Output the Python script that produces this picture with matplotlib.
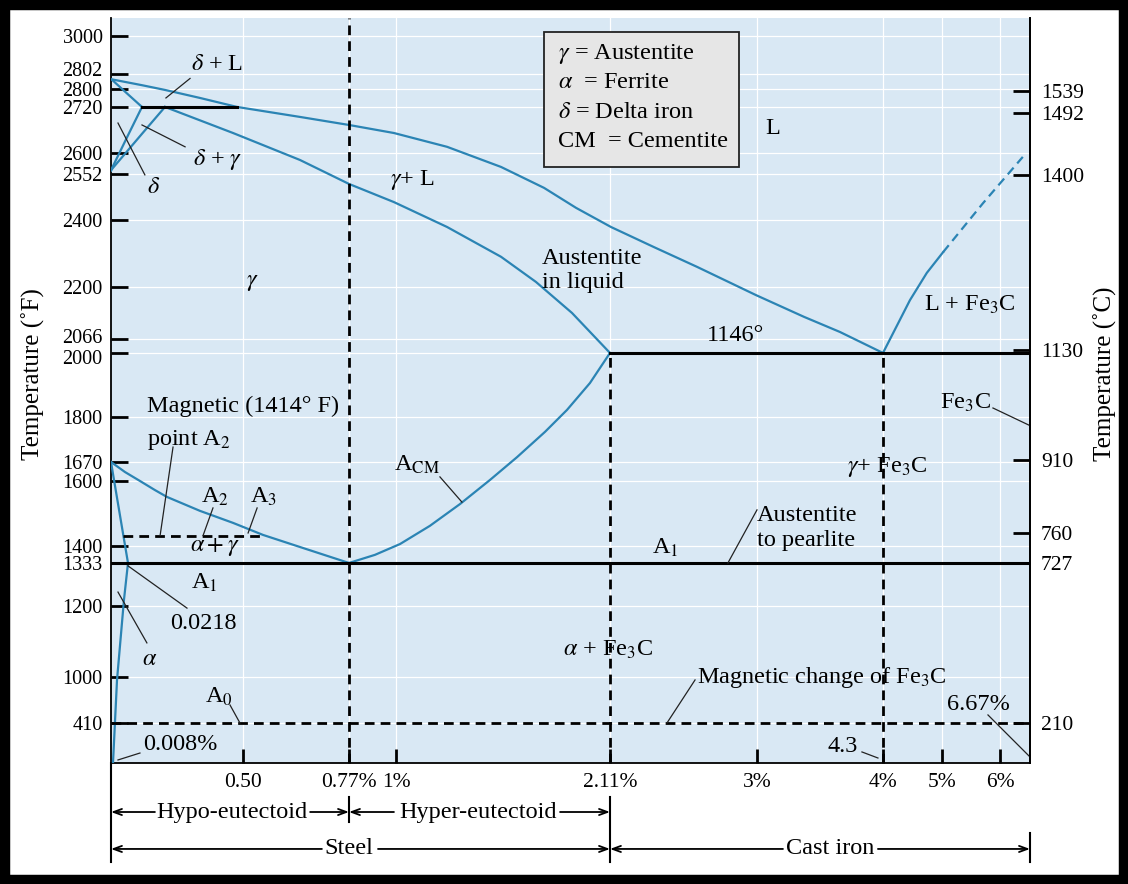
"""
Iron - iron carbide (Fe-Fe3C) phase diagram
"""

import numpy as np
import matplotlib
matplotlib.use("Agg")
import matplotlib.pyplot as plt
import matplotlib.transforms as mtransforms
from matplotlib.patches import Rectangle

plt.rcParams["font.family"] = ["Liberation Serif", "DejaVu Serif"]
plt.rcParams["mathtext.fontset"] = "stix"

# -----------------------------------------------------------------------------
# Data (composition in wt% C, temperature in deg F, as drawn)
# -----------------------------------------------------------------------------
liquidus_c = [0.0, 0.09, 0.17, 0.318, 0.475, 0.645, 0.77, 0.99, 1.265, 1.545,
              1.768, 1.934, 2.116, 2.376, 2.637, 2.994, 3.485, 3.856, 4.3]
liquidus_t = [2801.3, 2800.5, 2795.6, 2760, 2720, 2694, 2673, 2652, 2616, 2568,
              2506, 2440, 2379, 2319, 2260, 2179, 2123, 2084, 2000]

delta_solidus_c = [0.0, 0.008, 0.0218, 0.09]
delta_solidus_t = [2801.3, 2801.1, 2776, 2720]

delta_solvus_c = [0.09, 0.0218, 0.008, 0.0]
delta_solvus_t = [2720, 2646, 2570, 2560]

gamma_delta_c = [0.0, 0.008, 0.0218, 0.09, 0.17]
gamma_delta_t = [2560, 2566, 2607, 2650, 2720]

gamma_solidus_c = [0.17, 0.458, 0.645, 0.77, 0.99, 1.265, 1.545, 1.726, 1.913, 2.11]
gamma_solidus_t = [2720, 2652, 2584, 2519, 2459, 2379, 2290, 2215, 2133, 2000]

a3_c = [0.0, 0.019, 0.080, 0.135, 0.178, 0.318, 0.458, 0.551, 0.645, 0.77]
a3_t = [1670, 1633, 1600, 1572, 1551, 1508, 1471, 1434, 1396, 1333]

alpha_c = [0.0, 0.008, 0.0218]
alpha_t = [1670, 1626, 1333]

alpha_solvus_c = [0.0218, 0.0181, 0.0117, 0.008]
alpha_solvus_t = [1333, 1219, 962, 0]

acm_c = [0.77, 0.897, 1.021, 1.176, 1.332, 1.488, 1.628, 1.773, 1.887, 2.006, 2.11]
acm_t = [1333, 1365, 1406, 1462, 1529, 1604, 1684, 1757, 1822, 1906, 2000]

fe3c_liq_c = [4.3, 4.62, 4.82, 5.02]
fe3c_liq_t = [2000, 2166, 2242, 2304]
fe3c_liq_ext_c = [5.02, 5.71, 6.51]
fe3c_liq_ext_t = [2304, 2456, 2591]

# isotherms: (temperature, c_from, c_to)
peritectic = (2720, 0.09, 0.475)
eutectic = (2000, 2.11, 6.67)
eutectoid = (1333, 0.0, 6.67)
magnetic_a2 = (1432, 0.017, 0.55)
magnetic_a0 = (410, 0.0, 6.67)

# key compositions: (carbon, top temperature)
eutectoid_c = (0.77, 3100)
max_gamma_c = (2.11, 2000)
eutectic_c = (4.3, 2000)

left_ticks = [3000, 2802, 2800, 2720, 2600, 2552, 2400, 2200, 2066, 2000,
              1800, 1670, 1600, 1400, 1333, 1200, 1000, 410]
right_ticks_f = [2791, 2704, 2549, 2014, 1676, 1440, 1333, 410]
right_labels = ["1539", "1492", "1400", "1130", "910", "760", "727", "210"]
x_ticks = [0.5, 0.77, 1.0, 2.11, 3.0, 4.3, 5.0, 6.0]
x_labels = ["0.50", "0.77%", "1%", "2.11%", "3%", "4%", "5%", "6%"]

# -----------------------------------------------------------------------------
# Non-linear (schematic) axis scales of the original drawing
# -----------------------------------------------------------------------------
C_BREAKS = np.array([0, 0.008, 0.0218, 0.09, 0.17, 0.5, 0.77, 1.0, 2.11, 3.0,
                     4.3, 5.0, 6.0, 6.67])
C_POS = np.array([111, 113, 128, 142, 165, 243, 349, 396, 610, 757, 883, 942,
                  1000, 1030], dtype=float)
T_BREAKS = np.array([0, 410, 1000, 1200, 1333, 1400, 1600, 1670, 1800, 2000,
                     2066, 2200, 2400, 2552, 2600, 2720, 2800, 2802, 3000, 3100])
T_POS = -np.array([763, 723, 677, 606, 563, 546, 481, 462, 417, 353, 339, 287,
                   220, 174, 153, 107, 89, 74, 36, 18], dtype=float)


def c_fwd(v):
    return np.interp(v, C_BREAKS, C_POS)


def c_inv(v):
    return np.interp(v, C_POS, C_BREAKS)


def t_fwd(v):
    return np.interp(v, T_BREAKS, T_POS)


def t_inv(v):
    return np.interp(v, T_POS, T_BREAKS)


BLUE = "#2b84b4"
BG = "#d9e8f4"
FS = 17.5
TICK_FS = 15.5

fig = plt.figure(figsize=(11.28, 8.84), dpi=100)
ax = fig.add_axes([0.0984, 0.1369, 0.8147, 0.8428])
ax.set_xscale("function", functions=(c_fwd, c_inv))
ax.set_yscale("function", functions=(t_fwd, t_inv))
ax.set_xlim(0, 6.67)
ax.set_ylim(0, 3100)
ax.set_facecolor(BG)
ax.set_axisbelow(True)
ax.grid(True, color="white", lw=0.9)

for s in ["left", "right", "bottom"]:
    ax.spines[s].set_linewidth(1.3)
ax.spines["top"].set_visible(False)

ax.set_yticks(left_ticks)
ax.set_yticklabels([str(t) for t in left_ticks])
ax.set_xticks(x_ticks)
ax.set_xticklabels(x_labels)
ax.tick_params(axis="y", direction="in", length=12, width=2, pad=6,
               labelsize=14.5)
ax.tick_params(axis="x", direction="in", length=10, width=2, pad=7,
               labelsize=TICK_FS)
ax.minorticks_off()

# -----------------------------------------------------------------------------
# Phase boundaries
# -----------------------------------------------------------------------------
curves = [
    (liquidus_c, liquidus_t),
    (delta_solidus_c, delta_solidus_t),
    (delta_solvus_c, delta_solvus_t),
    (gamma_delta_c, gamma_delta_t),
    (gamma_solidus_c, gamma_solidus_t),
    (a3_c, a3_t),
    (alpha_c, alpha_t),
    (alpha_solvus_c, alpha_solvus_t),
    (acm_c, acm_t),
    (fe3c_liq_c, fe3c_liq_t),
]
for c, t in curves:
    ax.plot(c, t, color=BLUE, lw=1.6, zorder=3, solid_joinstyle="round")
ax.plot(fe3c_liq_ext_c, fe3c_liq_ext_t, color=BLUE, lw=1.6, zorder=3,
        dashes=(4, 2.5))

for t, c0, c1 in [peritectic, eutectic, eutectoid]:
    ax.plot([c0, c1], [t, t], color="black", lw=2.2, zorder=4)
for t, c0, c1 in [magnetic_a2, magnetic_a0]:
    ax.plot([c0, c1], [t, t], color="black", lw=2.0, zorder=4, dashes=(3.5, 2.2))
for c, t in [eutectoid_c, max_gamma_c, eutectic_c]:
    ax.plot([c, c], [0, t], color="black", lw=2.0, zorder=4, dashes=(3.5, 2.2))

# -----------------------------------------------------------------------------
# Labels and leader lines
# -----------------------------------------------------------------------------
def note(txt, c, t, ha="center", **kw):
    ax.text(c, t, txt, ha=ha, va="center", fontsize=FS, zorder=6, **kw)


def leader(c0, t0, c1, t1):
    ax.plot([c0, c1], [t0, t1], color="#222222", lw=0.9, zorder=5)


note(r"$\delta$ + L", 0.39, 2852)
leader(0.276, 2801.4, 0.174, 2760)
note(r"$\delta$ + $\gamma$", 0.394, 2584)
leader(0.255, 2616, 0.09, 2673)
note(r"$\delta$", 0.132, 2506)
leader(0.10, 2549, 0.0126, 2678)
note(r"$\gamma$", 0.523, 2212)
note(r"$\gamma$+ L", 1.083, 2532)
note("L", 3.165, 2663)
note("Austentite\nin liquid", 1.757, 2248, ha="left", linespacing=1.2)
note("1146°", 2.867, 2074)

note("Magnetic (1414° F)", 0.107, 1834, ha="left")
note(r"point A$_2$", 0.107, 1734, ha="left")
leader(0.204, 1713, 0.153, 1432)
note(r"A$_2$", 0.382, 1551)
leader(0.373, 1517, 0.331, 1432)
note(r"A$_3$", 0.553, 1551)
leader(0.536, 1517, 0.513, 1440)
note(r"$\alpha + \gamma$", 0.382, 1396)
note(r"A$_1$", 0.335, 1271)
note("0.0218", 0.331, 1152)
leader(0.0218, 1324, 0.263, 1194)
note(r"$\alpha$", 0.118, 1048)
leader(0.107, 1096, 0.0126, 1243)
note(r"A$_0$", 0.398, 743)
leader(0.445, 641, 0.487, 410)
note("0.008%", 0.233, 185)
leader(0.08, 102, 0.0126, 31)

note(r"A$_{\mathrm{CM}}$", 1.109, 1659)
leader(1.228, 1615, 1.342, 1535)
note(r"$\alpha$ + Fe$_3$C", 2.10, 1076)
note(r"$\gamma$+ Fe$_3$C", 4.347, 1652)
note("Austentite\nto pearlite", 3.0, 1455, ha="left", linespacing=1.2)
leader(3.0, 1511, 2.824, 1333)
note(r"A$_1$", 2.443, 1392)
note(r"Fe$_3$C", 5.414, 1844)
leader(5.879, 1828, 6.67, 1775)
note(r"Magnetic change of Fe$_3$C", 3.671, 987)
leader(2.625, 962, 2.455, 410)
note("6.67%", 5.621, 641)
leader(5.793, 513, 6.67, 62)
note("4.3", 3.887, 174)
leader(4.083, 113, 4.248, 51)
note(r"L + Fe$_3$C", 5.483, 2154)

# key box
ax.add_patch(Rectangle((0.471, 0.800), 0.212, 0.181, transform=ax.transAxes,
                       facecolor="#e6e6e6", edgecolor="#222222", lw=1.3,
                       zorder=5))
key_lines = [r"$\gamma$ = Austentite", r"$\alpha$  = Ferrite",
             r"$\delta$ = Delta iron", "CM  = Cementite"]
for txt, yk in zip(key_lines, [0.952, 0.913, 0.873, 0.834]):
    ax.text(0.486, yk, txt, transform=ax.transAxes, ha="left", va="center",
            fontsize=FS, zorder=6)

# -----------------------------------------------------------------------------
# Right-hand Celsius axis
# -----------------------------------------------------------------------------
ax2 = ax.twinx()
ax2.set_yscale("function", functions=(t_fwd, t_inv))
ax2.set_ylim(0, 3100)
ax2.set_yticks(right_ticks_f)
ax2.set_yticklabels(right_labels)
ax2.minorticks_off()
ax2.tick_params(axis="y", direction="in", length=12, width=2, pad=8,
                labelsize=TICK_FS)
for s in ["top", "left", "bottom"]:
    ax2.spines[s].set_visible(False)
ax2.spines["right"].set_linewidth(1.3)

ax.text(-0.085, 0.522, "Temperature (˚F)", transform=ax.transAxes,
        rotation=90, ha="center", va="center", fontsize=18)
ax.text(1.0816, 0.522, "Temperature (˚C)", transform=ax.transAxes,
        rotation=90, ha="center", va="center", fontsize=18)

# -----------------------------------------------------------------------------
# Classification bands under the composition axis
# -----------------------------------------------------------------------------
tr = ax.get_xaxis_transform()
row2, row3 = -0.0658, -0.1154


def band_arrow(c_from, c_to, y):
    ax.annotate("", xy=(c_to, y), xytext=(c_from, y), xycoords=tr,
                textcoords=tr, annotation_clip=False,
                arrowprops=dict(arrowstyle="->,head_length=0.6,head_width=0.22",
                                lw=1.3, color="black", shrinkA=0, shrinkB=0))


def band_bar(c, y0, y1):
    ax.plot([c, c], [y0, y1], transform=tr, clip_on=False, color="black", lw=1.5)


ax.text(0.453, row2, "Hypo-eutectoid", transform=tr, ha="center", va="center",
        fontsize=FS)
band_arrow(0.135, 0.0, row2)
band_arrow(0.671, 0.77, row2)
ax.text(1.425, row2, "Hyper-eutectoid", transform=tr, ha="center", va="center",
        fontsize=FS)
band_arrow(0.99, 0.77, row2)
band_arrow(1.851, 2.11, row2)

ax.text(0.77, row3, "Steel", transform=tr, ha="center", va="center", fontsize=FS)
band_arrow(0.701, 0.0, row3)
band_arrow(0.912, 2.11, row3)
ax.text(3.753, row3, "Cast iron", transform=tr, ha="center", va="center",
        fontsize=FS)
band_arrow(3.268, 2.11, row3)
band_arrow(4.248, 6.67, row3)

band_bar(0.0, 0.0, -0.1329)
band_bar(0.77, -0.0456, -0.0792)
band_bar(2.11, -0.0456, -0.1329)
band_bar(6.67, -0.094, -0.1329)

# spread the crowded tick labels a little, as in the original drawing
nudge = {2802: 3.6, 2066: 1.8, 2000: -3.0}  # points
for val, tick in zip(left_ticks, ax.yaxis.get_major_ticks()):
    if val in nudge:
        off = mtransforms.ScaledTranslation(0, nudge[val] / 72, fig.dpi_scale_trans)
        tick.label1.set_transform(tick.label1.get_transform() + off)

# black frame around the picture
fig.patches.append(Rectangle((0, 0), 1, 1, transform=fig.transFigure,
                             fill=False, edgecolor="black", lw=14))

fig.savefig("out.png", dpi=100)
